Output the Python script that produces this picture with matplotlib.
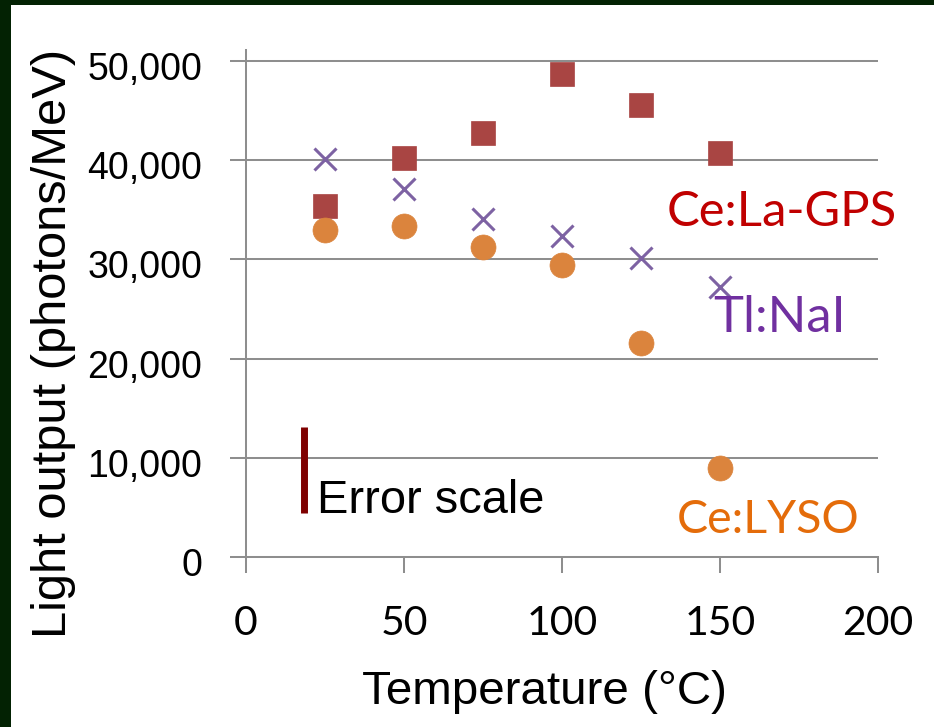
import matplotlib
matplotlib.use("Agg")
import matplotlib.pyplot as plt
import matplotlib.transforms as mtransforms
from matplotlib.patches import Rectangle

# ---- data ----
temps = [25, 50, 75, 100, 125, 150]
gps = [35400, 40200, 42700, 48700, 45600, 40700]     # Ce:La-GPS
nai = [40100, 37100, 34100, 32400, 30100, 27200]     # Tl:NaI
lyso = [33000, 33400, 31300, 29400, 21600, 9000]     # Ce:LYSO
err_x = [18.5, 18.5]
err_y = [4400, 13100]
xticks = [0, 50, 100, 150, 200]
yticks = [0, 10000, 20000, 30000, 40000, 50000]
ytick_labels = ["0", "10,000", "20,000", "30,000", "40,000", "50,000"]

W, H = 934, 727
DPI = 100
fig = plt.figure(figsize=(W / DPI, H / DPI), dpi=DPI)
fig.patch.set_facecolor("#032203")
fig.patches.append(Rectangle((11 / W, -0.02), 1.1, 1.02 - 5 / H,
                             transform=fig.transFigure, facecolor="white",
                             edgecolor="none", zorder=-10))

def px2fx(x):
    return x / W

def px2fy(y):
    return 1 - y / H

ax_l, ax_r, ax_b, ax_t = 246, 878, 557, 50
ax = fig.add_axes([px2fx(ax_l), px2fy(ax_b), (ax_r - ax_l) / W, (ax_b - ax_t) / H])
ax.set_zorder(5)
ax.set_facecolor("none")

GRID = "#8E8E8E"
ax.set_xlim(0, 200)
ax.set_ylim(0, 51110)
ax.set_yticks(yticks)
ax.set_yticklabels(ytick_labels)
ax.set_xticks(xticks)
ax.set_xticklabels([str(v) for v in xticks])
ax.grid(axis="y", color=GRID, lw=1.45)
ax.set_axisbelow(True)
for s in ["top", "right"]:
    ax.spines[s].set_visible(False)
for s in ["left", "bottom"]:
    ax.spines[s].set_color(GRID)
    ax.spines[s].set_linewidth(1.45)
ax.tick_params(axis="both", direction="out", length=11.5, width=1.45, color=GRID)
ax.tick_params(axis="y", pad=20, labelsize=27)
ax.tick_params(axis="x", pad=23, labelsize=29.5)
for lab in ax.get_yticklabels():
    lab.set_fontfamily("Liberation Sans")
    lab.set_transform(lab.get_transform() +
                      mtransforms.ScaledTranslation(0, -5 / DPI, fig.dpi_scale_trans))
for lab in ax.get_xticklabels():
    lab.set_fontfamily("Lato")

# series
ax.plot(temps, gps, ls="none", marker="s", ms=17, color="#A94543",
        mec="#A94543", mew=0.5, zorder=3, clip_on=False)
ax.plot(temps, nai, ls="none", marker="x", ms=16, color="#7D62A3",
        mew=2.2, zorder=3, clip_on=False)
ax.plot(temps, lyso, ls="none", marker="o", ms=18, color="#DB843D",
        mec="#DB843D", mew=0.5, zorder=4, clip_on=False)

# error scale
ax.plot(err_x, err_y, color="#7F0000", lw=5, solid_capstyle="butt", zorder=3)
ax.text(22.5, 4435, "Error scale", fontsize=33.8, family="Liberation Sans",
        ha="left", va="baseline", color="black")

# series labels
ax.text(133.2, 34780, "Ce:La-GPS", fontsize=35.3, family="Lato", color="#C00000",
        ha="left", va="center")
ax.text(148.0, 24090, "Tl:NaI", fontsize=36.5, family="Lato", color="#7030A0",
        ha="left", va="center")
ax.text(136.4, 3730, "Ce:LYSO", fontsize=33.5, family="Lato", color="#E46C0A",
        ha="left", va="center")

# axis titles
fig.text(px2fx(54), px2fy(343), "Light output (photons/MeV)", rotation=90,
         fontsize=35.2, family="Liberation Sans", ha="center", va="center")
fig.text(px2fx(545), px2fy(692), "Temperature (°C)", fontsize=34.2,
         family="Liberation Sans", ha="center", va="center")

fig.savefig("out.png", dpi=DPI, facecolor=fig.get_facecolor())
